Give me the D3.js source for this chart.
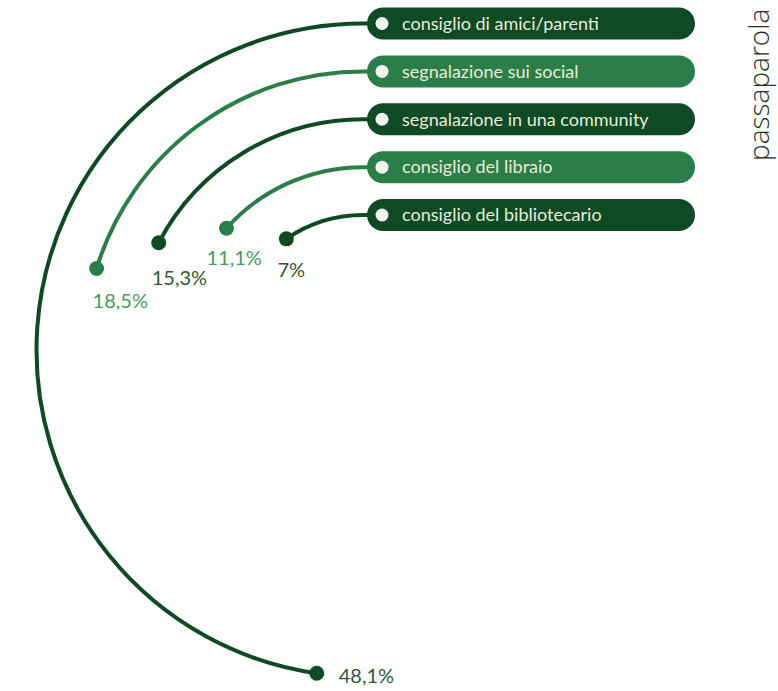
<!DOCTYPE html>
<html>
<head>
<meta charset="utf-8">
<script src="https://cdn.jsdelivr.net/npm/d3@7"></script>
<style>
  html, body { margin: 0; padding: 0; background: #ffffff; }
  svg { display: block; }
</style>
</head>
<body>
<svg id="chart" width="778" height="691"></svg>
<script>
// Sources of book recommendations (share of respondents)
const categories = [
  "consiglio di amici/parenti",
  "segnalazione sui social",
  "segnalazione in una community",
  "consiglio del libraio",
  "consiglio del bibliotecario"
];
const values = [48.1, 18.5, 15.3, 11.1, 7];
const valueLabels = ["48,1%", "18,5%", "15,3%", "11,1%", "7%"];
const shades = ["dark", "light", "dark", "light", "dark"];
const sideTitle = "passaparola";

const width = 778, height = 691;
const svg = d3.select("#chart");

// Common centre of the concentric arcs
const cx = 363, cy = 350;

// Each category sits on its own ring; the ring top lines up with its tag
const ringY = d3.scalePoint().domain(categories).range([23.5, 215]);
const radius = c => cy - ringY(c);

// Value -> sweep angle (counter-clockwise from 12 o'clock)
const sweep = d3.scaleLinear()
  .domain([0, 50])
  .range([11.2 * Math.PI / 180, 178.2 * Math.PI / 180]);

const fill = d3.scaleOrdinal()
  .domain(["dark", "light"])
  .range(["#0e4a24", "#2b7e48"]);
const labelFill = d3.scaleOrdinal()
  .domain(["dark", "light"])
  .range(["#2f5a37", "#4a9a5f"]);

const rows = categories.map((c, i) => ({
  cat: c, value: values[i], label: valueLabels[i], shade: shades[i], i
}));

// Tag geometry
const tagX0 = 367, tagX1 = 695, tagH = 32;

// Arcs
rows.forEach(d => {
  const r = radius(d.cat);
  const y = ringY(d.cat);
  const a = sweep(d.value);
  const p = d3.path();
  p.moveTo(tagX0 + 4, y);
  p.lineTo(cx, y);
  p.arc(cx, cy, r, -Math.PI / 2, -Math.PI / 2 - a, true);
  svg.append("path")
    .attr("d", p.toString())
    .attr("fill", "none")
    .attr("stroke", fill(d.shade))
    .attr("stroke-width", 4)
    .attr("stroke-linecap", "round");

  d.ex = cx - r * Math.sin(a);
  d.ey = cy - r * Math.cos(a);
});

// End dots
svg.selectAll("circle.end")
  .data(rows)
  .join("circle")
  .attr("class", "end")
  .attr("cx", d => d.ex)
  .attr("cy", d => d.ey)
  .attr("r", 7.5)
  .attr("fill", d => fill(d.shade));

// Value labels: the largest ring is labelled to the right of its dot,
// the others just below theirs
const nudge = [
  { dx: 22, dy: 10 },
  { dx: -4, dy: 40 },
  { dx: -7, dy: 42 },
  { dx: -20, dy: 37 },
  { dx: -9, dy: 38 }
];
svg.selectAll("text.value")
  .data(rows)
  .join("text")
  .attr("class", "value")
  .attr("x", d => d.ex + nudge[d.i].dx)
  .attr("y", d => d.ey + nudge[d.i].dy)
  .attr("font-family", "Lato, 'Open Sans', sans-serif")
  .attr("font-size", 20)
  .attr("fill", d => labelFill(d.shade))
  .text(d => d.label);

// Category tags
const tags = svg.selectAll("g.tag")
  .data(rows)
  .join("g")
  .attr("class", "tag")
  .attr("transform", d => `translate(0,${ringY(d.cat)})`);

tags.append("rect")
  .attr("x", tagX0)
  .attr("y", -tagH / 2)
  .attr("width", tagX1 - tagX0)
  .attr("height", tagH)
  .attr("rx", tagH / 2)
  .attr("fill", d => fill(d.shade));

tags.append("circle")
  .attr("cx", tagX0 + 15)
  .attr("cy", 0)
  .attr("r", 6.5)
  .attr("fill", "#f4f4ee");

tags.append("text")
  .attr("x", tagX0 + 35)
  .attr("y", 0)
  .attr("dy", "0.35em")
  .attr("font-family", "Lato, 'Open Sans', sans-serif")
  .attr("font-size", 18)
  .attr("fill", "#e8ebda")
  .text(d => d.cat);

// Vertical side title
svg.append("text")
  .attr("transform", "translate(769,161) rotate(-90)")
  .attr("font-family", "'Open Sans', sans-serif")
  .attr("font-weight", 300)
  .attr("font-size", 28)
  .attr("fill", "#2b2b2b")
  .text(sideTitle);
</script>
</body>
</html>
